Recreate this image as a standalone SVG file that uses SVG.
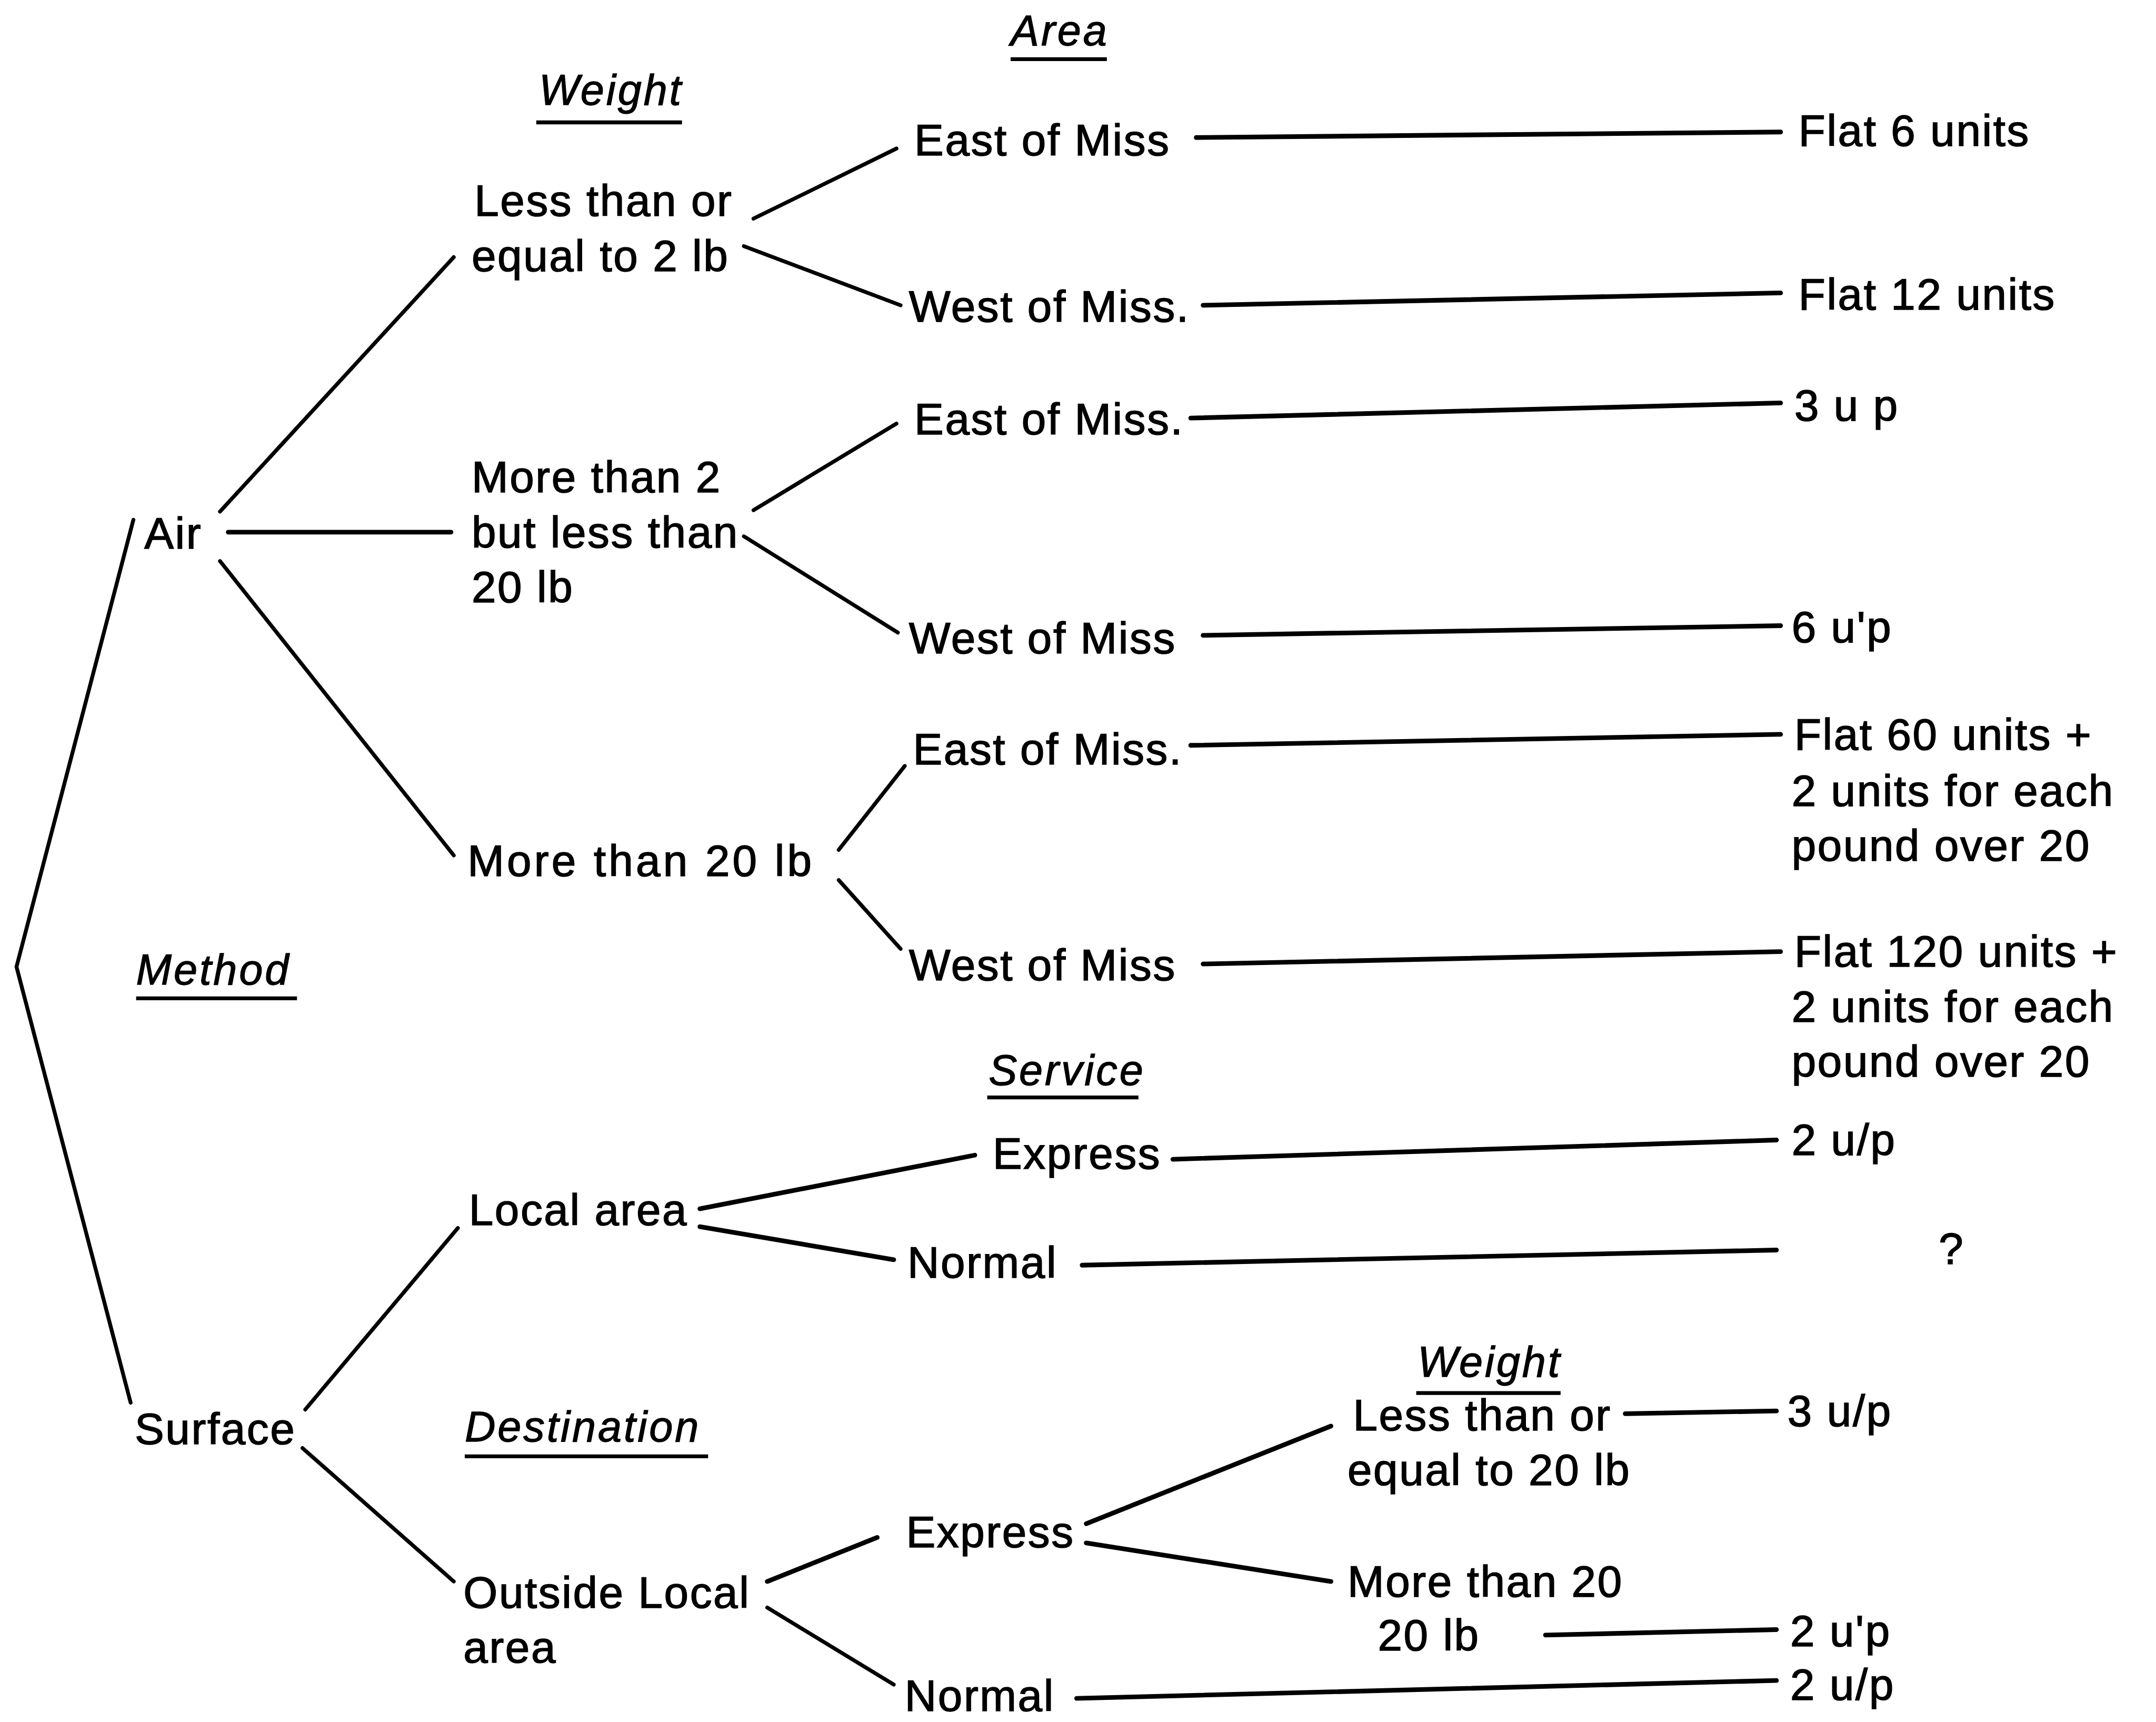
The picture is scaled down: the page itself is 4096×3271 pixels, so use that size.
<svg xmlns="http://www.w3.org/2000/svg" width="4096" height="3271" viewBox="0 0 4096 3271">
  <style>
    .t { font-family: "Liberation Sans", Arial, sans-serif; font-size: 32px; letter-spacing: 1px; fill: #000; stroke: #000; stroke-width: 0.6px; }
    .h { font-family: "Liberation Sans", Arial, sans-serif; font-size: 31px; font-style: italic; letter-spacing: 1.5px; fill: #000; stroke: #000; stroke-width: 0.5px; }
    .br { stroke: #000; stroke-width: 2.8; fill: none; stroke-linecap: round; }
    .ld { stroke: #000; stroke-width: 3.4; fill: none; stroke-linecap: round; }
    .ul { stroke: #000; stroke-width: 2.8; fill: none; }
  </style>
  <rect width="4096" height="3271" fill="#fff"/>
  <g transform="scale(2.6122)">
    <!-- column headings -->
    <g id="headings">
      <text class="h" x="735" y="33">Area</text>
      <line class="ul" x1="735" y1="43" x2="805" y2="43"/>
      <text class="h" x="392" y="76">Weight</text>
      <line class="ul" x1="390" y1="89" x2="496" y2="89"/>
      <text class="h" x="99" y="716">Method</text>
      <line class="ul" x1="99" y1="726" x2="216" y2="726"/>
      <text class="h" x="719" y="789">Service</text>
      <line class="ul" x1="718" y1="798" x2="828" y2="798"/>
      <text class="h" x="338" y="1048">Destination</text>
      <line class="ul" x1="338" y1="1059" x2="515" y2="1059"/>
      <text class="h" x="1031" y="1001">Weight</text>
      <line class="ul" x1="1030" y1="1013" x2="1135" y2="1013"/>
    </g>

    <!-- connectors -->
    <g id="connectors">
      <!-- root fork -->
      <polyline class="br" points="97,378 12,703 95,1020"/>
      <!-- Air branches -->
      <line class="br" x1="160" y1="372" x2="330" y2="187"/>
      <line class="ld" x1="166" y1="387" x2="328" y2="387"/>
      <line class="br" x1="160" y1="408" x2="330" y2="622"/>
      <!-- weight <= 2 lb -->
      <line class="br" x1="548" y1="159" x2="652" y2="108"/>
      <line class="br" x1="541" y1="179" x2="655" y2="222"/>
      <!-- 2 to 20 lb -->
      <line class="br" x1="548" y1="371" x2="652" y2="308"/>
      <line class="br" x1="541" y1="390" x2="653" y2="460"/>
      <!-- over 20 lb -->
      <line class="br" x1="610" y1="618" x2="658" y2="557"/>
      <line class="br" x1="610" y1="640" x2="655" y2="690"/>
      <!-- area leaders -->
      <line class="ld" x1="870" y1="100" x2="1295" y2="96"/>
      <line class="ld" x1="875" y1="222" x2="1295" y2="213"/>
      <line class="ld" x1="866" y1="304" x2="1295" y2="293"/>
      <line class="ld" x1="875" y1="462" x2="1295" y2="455"/>
      <line class="ld" x1="866" y1="542" x2="1295" y2="534"/>
      <line class="ld" x1="875" y1="701" x2="1295" y2="692"/>
      <!-- Surface branches -->
      <line class="br" x1="222" y1="1025" x2="333" y2="893"/>
      <line class="br" x1="220" y1="1053" x2="330" y2="1150"/>
      <!-- local area -->
      <line class="ld" x1="509" y1="879" x2="709" y2="840"/>
      <line class="ld" x1="509" y1="892" x2="650" y2="916"/>
      <line class="ld" x1="853" y1="843" x2="1292" y2="829"/>
      <line class="ld" x1="787" y1="920" x2="1292" y2="909"/>
      <!-- outside local area -->
      <line class="ld" x1="558" y1="1150" x2="638" y2="1118"/>
      <line class="br" x1="558" y1="1169" x2="650" y2="1225"/>
      <line class="ld" x1="790" y1="1108" x2="968" y2="1037"/>
      <line class="ld" x1="790" y1="1122" x2="968" y2="1150"/>
      <line class="ld" x1="1182" y1="1028" x2="1292" y2="1026"/>
      <line class="ld" x1="1124" y1="1189" x2="1292" y2="1185"/>
      <line class="ld" x1="783" y1="1235" x2="1292" y2="1222"/>
    </g>

    <!-- nodes -->
    <g id="n-air"><text class="t" x="105" y="399">Air</text></g>
    <g id="n-surface"><text class="t" x="98" y="1050">Surface</text></g>

    <g id="n-w-le2"><text class="t" x="345" y="157">Less than or</text><text class="t" x="343" y="197">equal to 2 lb</text></g>
    <g id="n-w-2to20"><text class="t" x="343" y="358">More than 2</text><text class="t" x="343" y="398">but less than</text><text class="t" x="343" y="438">20 lb</text></g>
    <g id="n-w-gt20"><text class="t" x="340" y="637" style="letter-spacing:2px">More than 20 lb</text></g>

    <g id="n-a1"><text class="t" x="665" y="113">East of Miss</text></g>
    <g id="n-a2"><text class="t" x="661" y="234">West of Miss.</text></g>
    <g id="n-a3"><text class="t" x="665" y="316">East of Miss.</text></g>
    <g id="n-a4"><text class="t" x="661" y="475">West of Miss</text></g>
    <g id="n-a5"><text class="t" x="664" y="556">East of Miss.</text></g>
    <g id="n-a6"><text class="t" x="661" y="713">West of Miss</text></g>

    <g id="n-r1"><text class="t" x="1308" y="106">Flat 6 units</text></g>
    <g id="n-r2"><text class="t" x="1308" y="225">Flat 12 units</text></g>
    <g id="n-r3"><text class="t" x="1305" y="306">3 u p</text></g>
    <g id="n-r4"><text class="t" x="1303" y="467">6 u'p</text></g>
    <g id="n-r5"><text class="t" x="1305" y="545">Flat 60 units +</text><text class="t" x="1303" y="586">2 units for each</text><text class="t" x="1303" y="626">pound over 20</text></g>
    <g id="n-r6"><text class="t" x="1305" y="703">Flat 120 units +</text><text class="t" x="1303" y="743">2 units for each</text><text class="t" x="1303" y="783">pound over 20</text></g>

    <g id="n-local"><text class="t" x="341" y="891">Local area</text></g>
    <g id="n-outside"><text class="t" x="337" y="1169">Outside Local</text><text class="t" x="337" y="1209">area</text></g>

    <g id="n-l-express"><text class="t" x="722" y="850">Express</text></g>
    <g id="n-l-normal"><text class="t" x="660" y="929">Normal</text></g>
    <g id="n-o-express"><text class="t" x="659" y="1125">Express</text></g>
    <g id="n-o-normal"><text class="t" x="658" y="1244">Normal</text></g>

    <g id="n-ow-le20"><text class="t" x="984" y="1040">Less than or</text><text class="t" x="980" y="1080">equal to 20 lb</text></g>
    <g id="n-ow-gt20"><text class="t" x="980" y="1161">More than 20</text><text class="t" x="1002" y="1200">20 lb</text></g>

    <g id="n-r7"><text class="t" x="1303" y="840">2 u/p</text></g>
    <g id="n-r8"><text class="t" x="1410" y="919">?</text></g>
    <g id="n-r9"><text class="t" x="1300" y="1037">3 u/p</text></g>
    <g id="n-r10"><text class="t" x="1302" y="1197">2 u'p</text></g>
    <g id="n-r11"><text class="t" x="1302" y="1236">2 u/p</text></g>
  </g>
</svg>
